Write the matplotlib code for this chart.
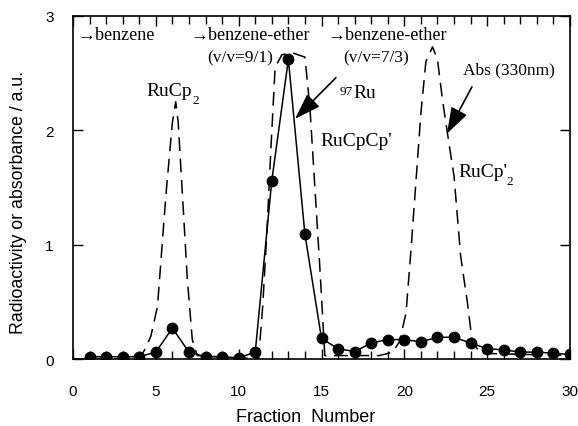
import matplotlib
matplotlib.use("Agg")
import matplotlib.pyplot as plt
from matplotlib.ticker import MultipleLocator

# ---- data ----
fractions = list(range(1, 31))
radioactivity = [0.02, 0.02, 0.02, 0.02, 0.06, 0.27, 0.06, 0.02, 0.02, 0.01,
                 0.06, 1.56, 2.62, 1.09, 0.18, 0.09, 0.065, 0.14, 0.17, 0.17,
                 0.15, 0.19, 0.19, 0.14, 0.09, 0.08, 0.06, 0.06, 0.05, 0.04]

abs_x = [0, 4.0, 4.4, 4.7, 5.1, 5.6, 6.0, 6.2, 6.35, 6.6, 6.9, 7.2, 7.5,
         11.2, 11.45, 11.7, 11.95, 12.2, 12.6, 13.2, 14.0, 14.3, 14.6, 14.9, 15.2,
         18.5, 19.3, 19.7, 20.1, 20.4, 20.7, 21.0, 21.3, 21.7, 22.0, 22.3, 22.7,
         23.0, 23.4, 23.8, 24.1, 24.6, 30]
abs_y = [0, 0, 0.1, 0.2, 0.46, 1.42, 2.07, 2.25, 2.07, 1.45, 0.7, 0.17, 0.03,
         0.0, 0.46, 1.1, 1.85, 2.55, 2.66, 2.68, 2.64, 2.2, 1.5, 0.8, 0.03,
         0.03, 0.06, 0.15, 0.4, 0.95, 1.55, 2.15, 2.6, 2.73, 2.62, 2.27, 1.88,
         1.6, 0.9, 0.5, 0.15, 0.05, 0.03]

x_ticks = [0, 5, 10, 15, 20, 25, 30]
y_ticks = [0, 1, 2, 3]

serif = ['Liberation Serif', 'DejaVu Serif']
sans = ['Liberation Sans', 'DejaVu Sans']
plt.rcParams['font.family'] = sans

fig = plt.figure(figsize=(5.78, 4.27), dpi=100)
ax = fig.add_axes([73/578, 1-360/427, (570-73)/578, (360-17)/427])

ax.plot(abs_x, abs_y, color='black', lw=1.1, dashes=(9, 5), zorder=2)
ax.plot(fractions, radioactivity, color='black', lw=1.1, marker='o',
        markersize=7.5, markerfacecolor='black', zorder=3)

ax.set_xlim(0, 30)
ax.set_ylim(0, 3)
ax.set_xticks(x_ticks)
ax.set_yticks(y_ticks)
ax.xaxis.set_minor_locator(MultipleLocator(1))
ax.tick_params(which='both', direction='in', top=True, right=True, width=1.0,
               labelsize=11)
ax.tick_params(which='major', length=7)
ax.tick_params(which='minor', length=6)
ax.tick_params(axis='x', pad=18)
ax.tick_params(axis='y', pad=14)
for s in ax.spines.values():
    s.set_linewidth(1.2)

ax.set_xlabel('Fraction  Number', fontsize=13)
ax.xaxis.set_label_coords(0.469, -0.143)
ax.set_ylabel('Radioactivity or absorbance / a.u.', fontsize=12.8)
ax.yaxis.set_label_coords(-0.092, 0.46)

# annotations
tkw = dict(family=serif, color='black', va='center', ha='left')
ax.text(0.24, 2.84, '→benzene', fontsize=13, **tkw)
ax.text(7.06, 2.84, '→benzene-ether', fontsize=13, **tkw)
ax.text(8.09, 2.64, '(v/v=9/1)', fontsize=12.5, **tkw)
ax.text(15.33, 2.84, '→benzene-ether', fontsize=13, **tkw)
ax.text(16.3, 2.64, '(v/v=7/3)', fontsize=12.5, **tkw)
ax.text(23.54, 2.53, 'Abs (330nm)', fontsize=12.5, **tkw)
ax.text(14.91, 1.91, "RuCpCp'", fontsize=14, **tkw)

t1 = ax.text(4.45, 2.35, 'RuCp', fontsize=14, **tkw)
ax.annotate('2', xy=(1.0, 0.3), xycoords=t1, fontsize=9.5, family=serif,
            ha='left', va='top')
t2 = ax.text(23.24, 1.64, "RuCp'", fontsize=14, **tkw)
ax.annotate('2', xy=(0.98, 0.3), xycoords=t2, fontsize=9.5, family=serif,
            ha='left', va='top')
t3 = ax.text(16.9, 2.33, 'Ru', fontsize=14, **tkw)
ax.annotate('97', xy=(0.0, 0.95), xycoords=t3, fontsize=9.5, family=serif,
            ha='right', va='top')

arrowprops = dict(arrowstyle='-|>,head_length=0.9,head_width=0.3',
                  color='black', lw=1.2, shrinkA=0, shrinkB=0,
                  mutation_scale=18)
ax.annotate('', xy=(13.4, 2.1), xytext=(15.87, 2.46), arrowprops=arrowprops)
ax.annotate('', xy=(22.57, 1.97), xytext=(24.08, 2.38), arrowprops=arrowprops)

fig.savefig('out.png', dpi=100)
